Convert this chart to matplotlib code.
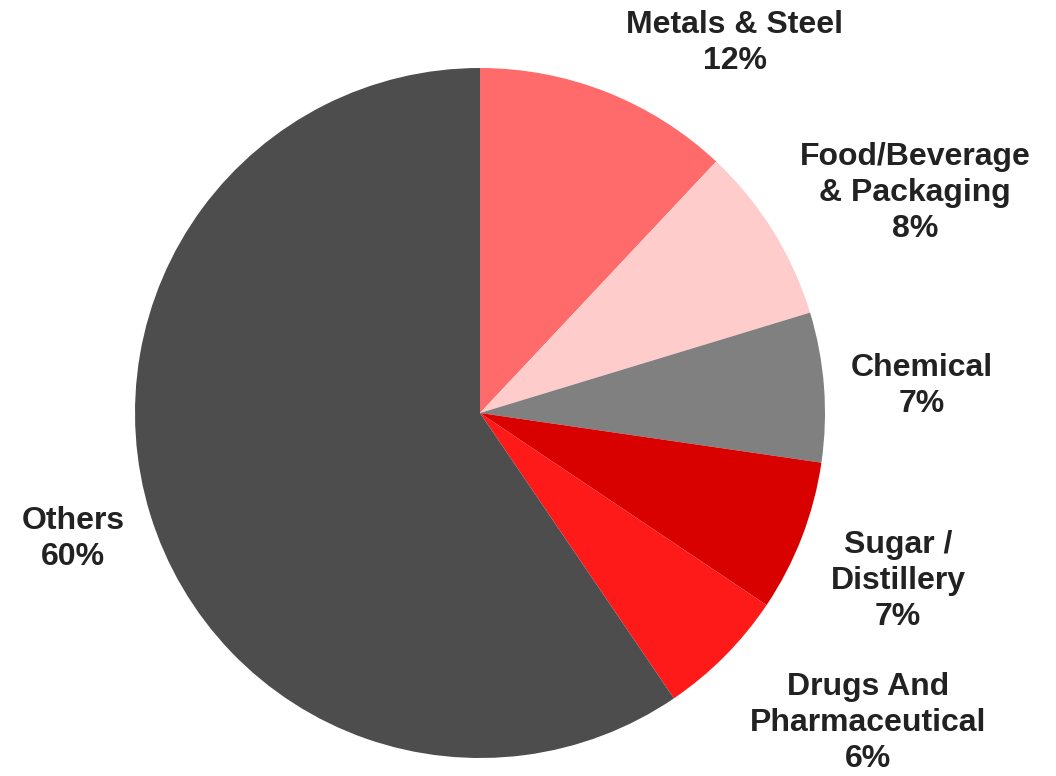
import numpy as np
import matplotlib.pyplot as plt

# --------------------------------------------------
# Data
# --------------------------------------------------
labels = ["Metals & Steel", "Food/Beverage\n& Packaging", "Chemical",
          "Sugar /\nDistillery", "Drugs And\nPharmaceutical", "Others"]
shares = [12.0, 8.3, 7.0, 7.1, 6.1, 59.5]
shown_pct = ["12%", "8%", "7%", "7%", "6%", "60%"]
colors = ["#FF6B6B", "#FFCCCC", "#808080", "#D90000", "#FF1A1A", "#4D4D4D"]

# label anchor (pixels from top-left)
label_pos = [(735, 43), (915, 193), (922, 386), (898, 581), (868, 723), (73, 539)]

# --------------------------------------------------
# Plot
# --------------------------------------------------
W, H = 1056, 776
fig = plt.figure(figsize=(W / 100, H / 100), dpi=100)
ax = fig.add_axes([0, 0, 1, 1])

cx, cy, r = 480, H - 413, 345
ax.pie(shares, colors=colors, startangle=90, counterclock=False,
       center=(cx, cy), radius=r, frame=True,
       wedgeprops=dict(linewidth=0))
ax.set_xlim(0, W)
ax.set_ylim(0, H)
ax.set_aspect("equal")
ax.axis("off")

for lab, pct, (x, y) in zip(labels, shown_pct, label_pos):
    ax.text(x, H - y, lab + "\n" + pct, ha="center", va="center",
            fontsize=23, fontweight="bold", family="Liberation Sans",
            color="#222222", linespacing=1.25)

fig.savefig("out.png", dpi=100)
